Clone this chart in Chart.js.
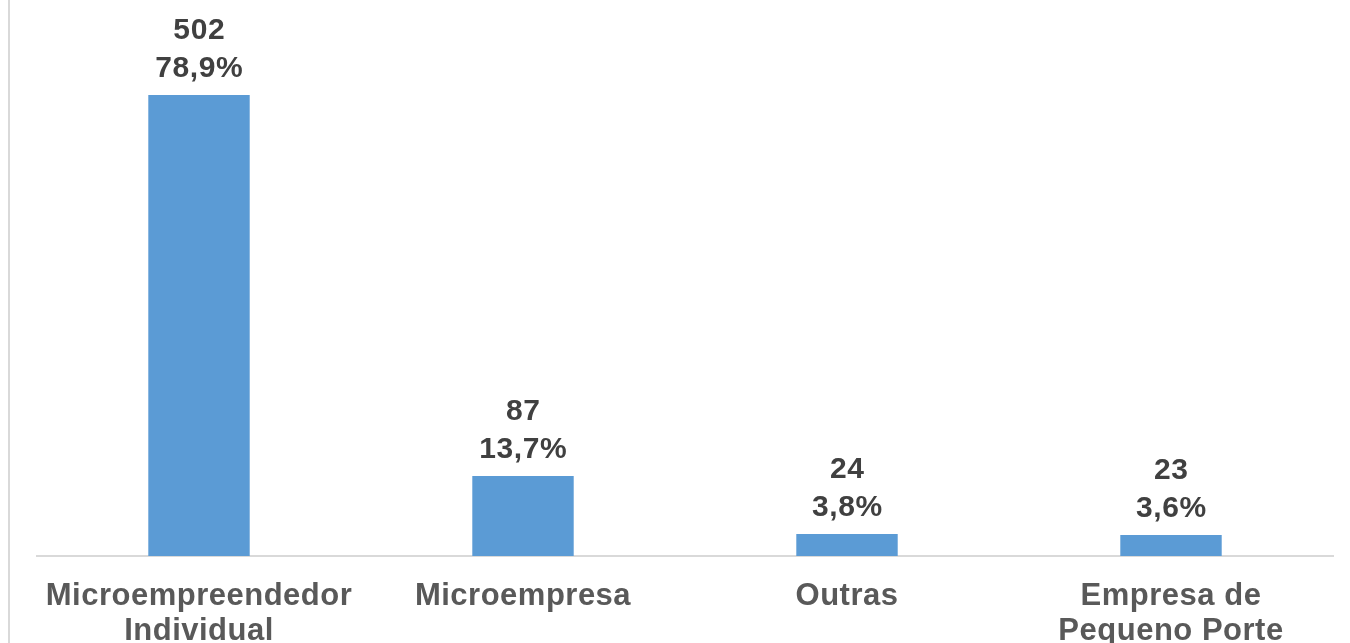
<!DOCTYPE html>
<html>
<head>
<meta charset="utf-8">
<script src="https://cdn.jsdelivr.net/npm/chart.js@4/dist/chart.umd.min.js"></script>
<style>
  html, body { margin: 0; padding: 0; background: #ffffff; }
  #wrap { position: relative; width: 1350px; height: 643px; overflow: hidden; }
  #edge { position: absolute; left: 8px; top: 0; width: 2px; height: 643px; background: #d9d9d9; }
  canvas { position: absolute; left: 0; top: 0; }
</style>
</head>
<body>
<div id="wrap">
  <div id="edge"></div>
  <canvas id="c" width="1350" height="643"></canvas>
</div>
<script>
const categories = [
  ['Microempreendedor', 'Individual'],
  'Microempresa',
  'Outras',
  ['Empresa de', 'Pequeno Porte']
];
const counts = [502, 87, 24, 23];
const percents = ['78,9%', '13,7%', '3,8%', '3,6%'];

const FONT = "'Liberation Sans', Arial, sans-serif";

const spacingPlugin = {
  id: 'spacing',
  beforeDraw(chart) { chart.ctx.letterSpacing = '0.5px'; }
};

const labelPlugin = {
  id: 'barLabels',
  afterDatasetsDraw(chart) {
    const ctx = chart.ctx;
    const meta = chart.getDatasetMeta(0);
    ctx.save();
    ctx.letterSpacing = '0.6px';
    ctx.font = 'bold 30px ' + FONT;
    ctx.fillStyle = '#404040';
    ctx.textAlign = 'center';
    ctx.textBaseline = 'alphabetic';
    meta.data.forEach((bar, i) => {
      const x = bar.x + 0.3;
      const top = bar.y;
      ctx.fillText(percents[i], x, top - 18);
      ctx.fillText(String(counts[i]), x, top - 56);
    });
    ctx.restore();
  }
};

new Chart(document.getElementById('c'), {
  type: 'bar',
  data: {
    labels: categories,
    datasets: [{
      data: counts,
      backgroundColor: '#5b9bd5',
      borderWidth: 0,
      barPercentage: 1,
      categoryPercentage: 0.313
    }]
  },
  options: {
    responsive: false,
    animation: false,
    layout: { padding: { left: 37, right: 17, top: 5, bottom: 0 } },
    plugins: { legend: { display: false }, tooltip: { enabled: false } },
    scales: {
      x: {
        grid: { display: false, drawTicks: false },
        border: { display: true, color: '#d9d9d9', width: 2 },
        ticks: {
          color: '#595959',
          padding: 22,
          maxRotation: 0,
          autoSkip: false,
          font: { family: FONT, size: 31, weight: 'bold', lineHeight: 1.16 }
        },
        afterFit(scale) { scale.height = 87; }
      },
      y: {
        display: false,
        min: 0,
        max: 600
      }
    }
  },
  plugins: [spacingPlugin, labelPlugin]
});
</script>
</body>
</html>
